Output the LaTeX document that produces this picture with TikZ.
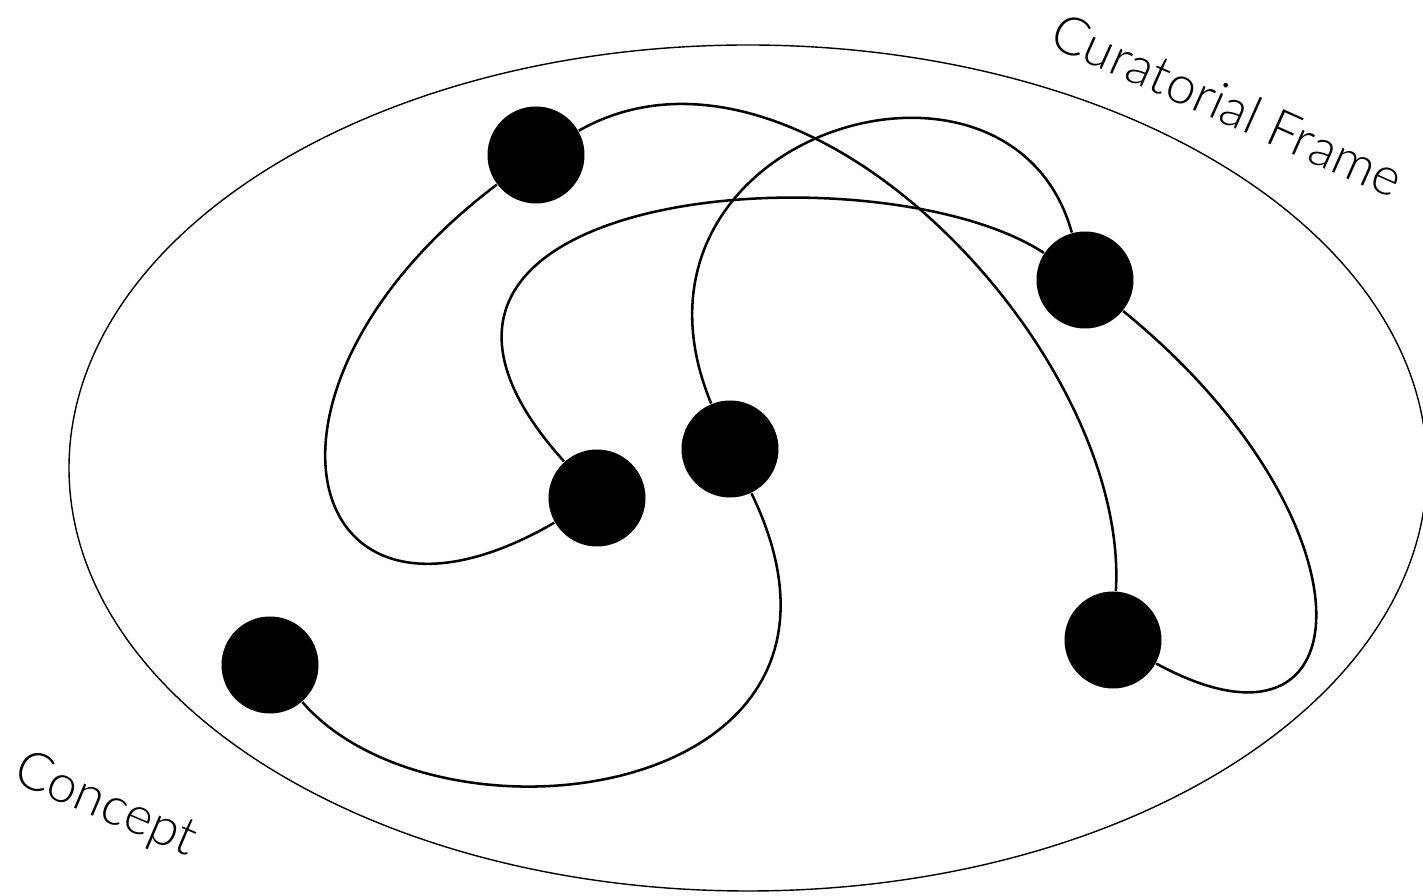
\documentclass[tikz,border=0pt]{standalone}
\usepackage{fontspec}
\newfontfamily\labelfont{Lato Light}
\usetikzlibrary{positioning}
\tikzset{
    dot/.style={circle, fill=black, minimum size=0.97cm, inner sep=0pt},
    thread/.style={line width=0.72pt, black},
    frame/.style={line width=0.4pt, black},
    framelbl/.style={font=\labelfont\fontsize{15}{18}\selectfont, anchor=base, rotate=-24, inner sep=0pt}
}
\begin{document}
\begin{tikzpicture}
            \useasboundingbox (0,0) rectangle (14.23,-8.96);

            % Outer frame
            \draw[frame] (7.48,-4.68) ellipse [x radius=6.79, y radius=4.23];
            \node[framelbl] (curlbl) at (12.20,-1.22) {Curatorial Frame};
            \node[framelbl, rotate=1] (conlbl) at (1.00,-8.19) {Concept};

            % Dots
            \node[dot] (p1) at (5.36,-1.55) {};
            \node[dot] (p2) at (10.85,-2.80) {};
            \node[dot] (p3) at (7.30,-4.49) {};
            \node[dot] (p4) at (5.97,-4.98) {};
            \node[dot] (p5) at (2.70,-6.65) {};
            \node[dot] (p6) at (11.13,-6.40) {};

            % Threads
            \draw[thread] (p1) .. controls (2.25,-3.90) and (3.00,-6.70) .. (p4);
            \draw[thread] (p1) .. controls (8.00,-0.05) and (11.30,-3.50) .. (p6);
            \draw[thread] (p4) .. controls (3.15,-1.85) and (8.80,-1.45) .. (p2);
            \draw[thread] (p3) .. controls (6.00,-1.35) and (10.10,-0.10) .. (p2);
            \draw[thread] (p2) .. controls (13.80,-5.20) and (13.70,-7.80) .. (p6);
            \draw[thread] (p3) .. controls (9.00,-8.00) and (4.40,-8.60) .. (p5);
        \end{tikzpicture}
\end{document}
